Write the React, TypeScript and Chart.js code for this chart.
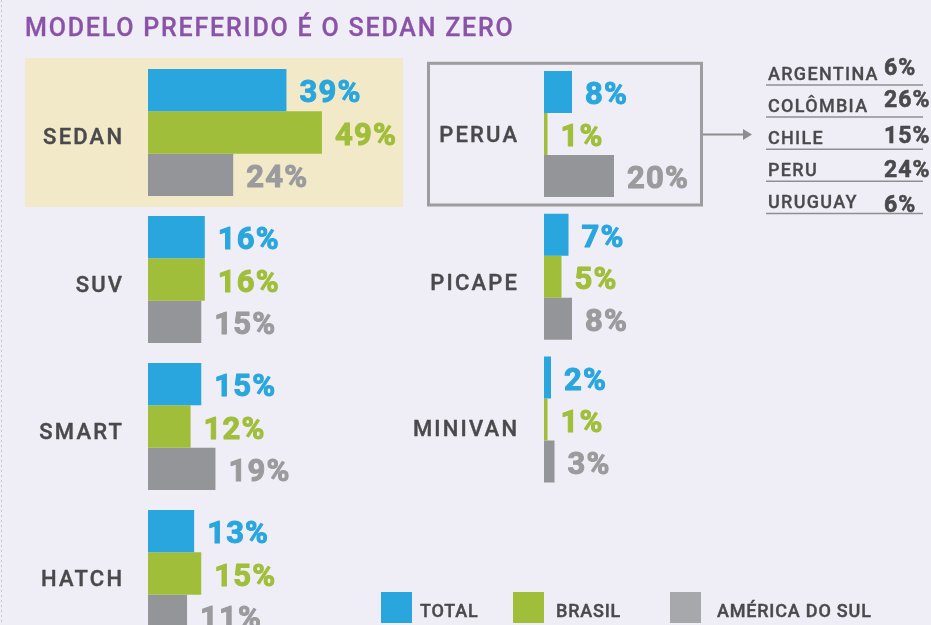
import React, { useEffect, useRef } from "react";
import { Chart, registerables } from "chart.js";

Chart.register(...registerables);

// ---- DATA ----
const seriesNames = ["TOTAL", "BRASIL", "AMÉRICA DO SUL"];
const leftCategories = ["SEDAN", "SUV", "SMART", "HATCH"];
const leftTotal = [39, 16, 15, 13];
const leftBrasil = [49, 16, 12, 15];
const leftAmerica = [24, 15, 19, 11];
const rightCategories = ["PERUA", "PICAPE", "MINIVAN"];
const rightTotal = [8, 7, 2];
const rightBrasil = [1, 5, 1];
const rightAmerica = [20, 8, 3];
const countries = ["ARGENTINA", "COLÔMBIA", "CHILE", "PERU", "URUGUAY"];
const countryValues = [6, 26, 15, 24, 6];
const titleText = "MODELO PREFERIDO É O SEDAN ZERO";

// ---- STYLE / LAYOUT ----
const BG = "#efedf5";
const barColors = ["#29a6de", "#a0be3a", "#949598"];
const labelColors = ["#29a6de", "#a0be3a", "#9b9b9e"];
const legendColors = ["#29a6de", "#a0be3a", "#a7a8ab"];
const DARK = "#4a4a4d";
const W = 931;
const H = 700;
const leftLabelNudge = [3, 4, 4, 4.5];
const rightLabelNudge = [0, 5, 8.5];
const tableValueDy = [-10, -10, -6, -4, -1];

function txt(
  ctx: CanvasRenderingContext2D,
  text: string,
  x: number,
  y: number,
  font: string,
  color: string,
  align: CanvasTextAlign = "left",
  spacing = 0,
  stroke = 0
) {
  ctx.save();
  ctx.font = font;
  ctx.fillStyle = color;
  ctx.strokeStyle = color;
  ctx.textAlign = align;
  ctx.textBaseline = "alphabetic";
  (ctx as any).letterSpacing = spacing + "px";
  const dx = align === "right" ? spacing : 0;
  ctx.fillText(text, x + dx, y);
  if (stroke > 0) {
    ctx.lineWidth = stroke;
    ctx.lineJoin = "round";
    ctx.strokeText(text, x + dx, y);
  }
  (ctx as any).letterSpacing = "0px";
  ctx.restore();
}

function drawBarLabels(
  chart: any,
  values: number[][],
  cats: string[],
  catRight: number,
  nudge: number[]
) {
  const ctx = chart.ctx as CanvasRenderingContext2D;
  values.forEach((vals, d) => {
    const meta = chart.getDatasetMeta(d);
    meta.data.forEach((el: any, i: number) => {
      txt(ctx, vals[i] + "%", el.x + 13, el.y + 12, "700 31px Roboto", labelColors[d], "left", 1.2, 1);
    });
  });
  const ys = chart.scales.y;
  cats.forEach((c, i) => {
    const cy = ys.getPixelForValue(i);
    txt(ctx, c, catRight, cy + 8 + nudge[i], "500 22px Roboto", DARK, "right", 2.2, 0.4);
  });
}

function makeDatasets(vals: number[][]) {
  return vals.map((v, d) => ({
    label: seriesNames[d],
    data: v,
    backgroundColor: barColors[d],
    borderWidth: 0,
  }));
}

const leftPlugin = {
  id: "leftDeco",
  beforeDatasetsDraw(chart: any) {
    const ctx = chart.ctx as CanvasRenderingContext2D;
    ctx.save();
    ctx.strokeStyle = "#c3c9d4";
    ctx.lineWidth = 1;
    ctx.setLineDash([2, 3]);
    ctx.beginPath();
    ctx.moveTo(1.5, 0);
    ctx.lineTo(1.5, 625);
    ctx.stroke();
    ctx.setLineDash([]);
    ctx.fillStyle = "#f2e9c9";
    ctx.fillRect(25, 58, 378, 149);
    ctx.restore();
  },
  afterDatasetsDraw(chart: any) {
    const ctx = chart.ctx as CanvasRenderingContext2D;
    drawBarLabels(chart, [leftTotal, leftBrasil, leftAmerica], leftCategories, 122, leftLabelNudge);
    // title
    txt(ctx, titleText, 25, 36, "500 25px Roboto", "#8a52a8", "left", 1.8, 0.3);
    // arrow
    ctx.save();
    ctx.strokeStyle = "#8d8d90";
    ctx.fillStyle = "#8d8d90";
    ctx.lineWidth = 2;
    ctx.beginPath();
    ctx.moveTo(703, 134.5);
    ctx.lineTo(746, 134.5);
    ctx.stroke();
    ctx.beginPath();
    ctx.moveTo(743, 129);
    ctx.lineTo(752, 134.5);
    ctx.lineTo(743, 140);
    ctx.closePath();
    ctx.fill();
    ctx.restore();
    // table
    countries.forEach((c, i) => {
      const uy = 85 + i * 32.1;
      ctx.save();
      ctx.strokeStyle = "#8f8f92";
      ctx.lineWidth = 1.5;
      ctx.beginPath();
      ctx.moveTo(766, uy);
      ctx.lineTo(923, uy);
      ctx.stroke();
      ctx.restore();
      txt(ctx, c, 768, uy - 5, "500 18px Roboto", DARK, "left", 1.3, 0.3);
      txt(ctx, countryValues[i] + "%", 884, uy + tableValueDy[i], "700 23px Roboto", DARK, "left", 1, 0.6);
    });
    // legend
    const lx = [381, 513, 670];
    const tx = [420, 556, 717];
    seriesNames.forEach((s, i) => {
      ctx.save();
      ctx.fillStyle = legendColors[i];
      ctx.fillRect(lx[i], 592, 31, 31);
      ctx.restore();
      txt(ctx, s, tx[i], 617, "500 18px Roboto", DARK, "left", 0.8, 0.4);
    });
  },
};

const rightPlugin = {
  id: "rightDeco",
  afterDatasetsDraw(chart: any) {
    const ctx = chart.ctx as CanvasRenderingContext2D;
    ctx.save();
    ctx.strokeStyle = "#9d9d9f";
    ctx.lineWidth = 3;
    ctx.strokeRect(428.5, 63.3, 273, 141.7);
    ctx.restore();
    drawBarLabels(chart, [rightTotal, rightBrasil, rightAmerica], rightCategories, 517, rightLabelNudge);
  },
};

function baseOptions(padding: any, catPct: number) {
  return {
    indexAxis: "y" as const,
    responsive: false,
    animation: false as const,
    devicePixelRatio: 1,
    layout: { padding },
    datasets: { bar: { categoryPercentage: catPct, barPercentage: 1 } },
    plugins: { legend: { display: false }, title: { display: false }, tooltip: { enabled: false } },
    events: [],
    scales: {
      x: { type: "linear" as const, min: 0, max: 100, display: false, grid: { display: false } },
      y: { type: "category" as const, display: false, grid: { display: false } },
    },
  };
}

export default function App() {
  const leftRef = useRef<HTMLCanvasElement>(null);
  const rightRef = useRef<HTMLCanvasElement>(null);

  useEffect(() => {
    document.body.style.margin = "0";
    const left = new Chart(leftRef.current!, {
      type: "bar",
      data: { labels: leftCategories, datasets: makeDatasets([leftTotal, leftBrasil, leftAmerica]) as any },
      options: baseOptions({ left: 148, right: W - (148 + 355), top: 59, bottom: H - 647 }, 127 / 147) as any,
      plugins: [leftPlugin],
    });
    const right = new Chart(rightRef.current!, {
      type: "bar",
      data: { labels: rightCategories, datasets: makeDatasets([rightTotal, rightBrasil, rightAmerica]) as any },
      options: baseOptions({ left: 544, right: W - (544 + 350), top: 62.6, bottom: H - 490.9 }, 126 / 142.75) as any,
      plugins: [rightPlugin],
    });
    return () => {
      left.destroy();
      right.destroy();
    };
  }, []);

  const cs: React.CSSProperties = { position: "absolute", left: 0, top: 0, width: W, height: H };
  return (
    <div
      style={{
        position: "absolute",
        left: 0,
        top: 0,
        width: W,
        height: 625,
        overflow: "hidden",
        background: BG,
      }}
    >
      <canvas ref={leftRef} width={W} height={H} style={cs} />
      <canvas ref={rightRef} width={W} height={H} style={cs} />
    </div>
  );
}
